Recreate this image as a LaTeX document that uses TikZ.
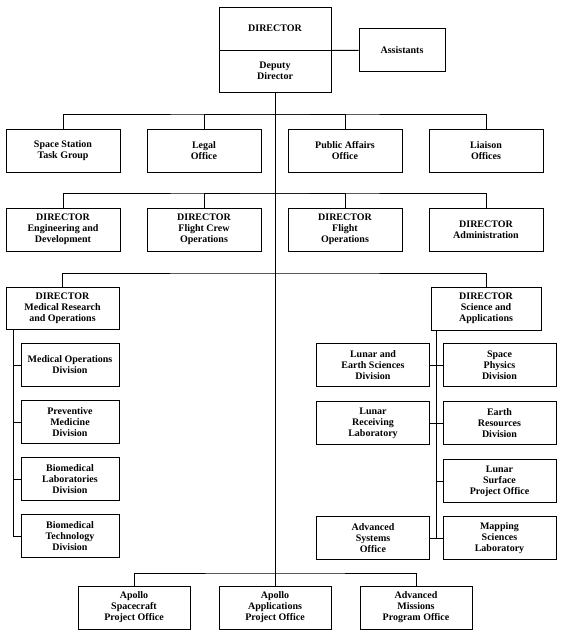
\documentclass[tikz,border=0pt]{standalone}
\usepackage{fontspec}
\setmainfont{Liberation Serif}
\usetikzlibrary{positioning}

\begin{document}
\begin{tikzpicture}[x=1pt,y=-1pt,on grid,node distance=141pt,line width=1pt,
   unit/.style={draw,line width=1pt,align=center,minimum width=114pt,minimum height=43pt,
      inner sep=1pt,font=\fontsize{10}{11}\selectfont\bfseries},
   div/.style={unit,minimum width=98pt}]
   \useasboundingbox (0,0) rectangle (563,637);
   \node[unit,minimum width=112pt] (dir) at (275,28.5) {DIRECTOR};
   \node[unit,minimum width=112pt,minimum height=42pt] (dep) [below=42.5pt of dir] {Deputy\\Director};
   \node[unit,minimum width=86pt] (assist) at (402,50) {Assistants};
   \node[unit] (sst)    at (63,150.5) {Space Station\\Task Group};
   \node[unit] (legal)  [right=of sst] {Legal\\Office};
   \node[unit] (pao)    [right=of legal] {Public Affairs\\Office};
   \node[unit] (liais)  [right=of pao] {Liaison\\Offices};
   \node[unit] (engdev) [below=79pt of sst] {DIRECTOR\\Engineering and\\Development};
   \node[unit] (crew)   [below=79pt of legal] {DIRECTOR\\Flight Crew\\Operations};
   \node[unit] (flops)  [below=79pt of pao] {DIRECTOR\\Flight\\Operations};
   \node[unit] (admin)  [below=79pt of liais] {DIRECTOR\\Administration};
   \node[unit,minimum width=113pt,minimum height=42pt] (medres) at (62.5,308) {DIRECTOR\\Medical Research\\and Operations};
   \node[unit,minimum width=110pt] (sciapp) at (486,308.5) {DIRECTOR\\Science and\\Applications};
   \node[div] (medops) at (70,365) {Medical Operations\\Division};
   \node[div] (prev)   [below=57pt of medops] {Preventive\\Medicine\\Division};
   \node[div] (bmlab)  [below=57pt of prev] {Biomedical\\Laboratories\\Division};
   \node[div] (bmtech) [below=57pt of bmlab] {Biomedical\\Technology\\Division};
   \node[unit,minimum width=113pt] (lunearth)  at (373,365) {Lunar and\\Earth Sciences\\Division};
   \node[unit,minimum width=113pt] (spacephys) [right=126.5pt of lunearth] {Space\\Physics\\Division};
   \node[unit,minimum width=113pt] (lunrec)    [below=58pt of lunearth] {Lunar\\Receiving\\Laboratory};
   \node[unit,minimum width=113pt] (earthres)  [below=58pt of spacephys] {Earth\\Resources\\Division};
   \node[unit,minimum width=113pt] (lunsurf)   [below=58pt of earthres] {Lunar\\Surface\\Project Office};
   \node[unit,minimum width=113pt] (mapping)   [below=57pt of lunsurf] {Mapping\\Sciences\\Laboratory};
   \node[unit,minimum width=113pt] (advsys)    [left=126.5pt of mapping] {Advanced\\Systems\\Office};
   \node[unit,minimum width=112pt] (apap) at (275,607.5) {Apollo\\Applications\\Project Office};
   \node[unit,minimum width=112pt] (apsc) [left=of apap] {Apollo\\Spacecraft\\Project Office};
   \node[unit,minimum width=112pt] (amp)  [right=of apap] {Advanced\\Missions\\Program Office};
   \coordinate (r1) at (275,114);
   \coordinate (r2) at (275,193);
   \coordinate (r3) at (275,273);
   \coordinate (r4) at (275,573);
   \draw (dep) -- (apap);
   \draw (dir.south east) -- (assist);
   \draw (sst) |- (r1) -| (liais);
   \draw (legal) |- (r1) -| (pao);
   \draw (engdev) |- (r2) -| (admin);
   \draw (crew) |- (r2) -| (flops);
   \draw (medres) |- (r3) -| (sciapp);
   \draw (apsc) |- (r4) -| (amp);
   \draw ([xshift=8pt]medres.south west) coordinate (ml) |- (bmtech);
   \foreach \n in {medops,prev,bmlab}
      \draw (\n.west) -- (\n.west -| ml);
   \draw ([xshift=6pt]sciapp.south west) coordinate (mr) |- (mapping);
   \draw (lunearth) -- (spacephys);
   \draw (lunrec) -- (earthres);
   \draw (advsys) -- (mapping);
   \draw (lunsurf.west) -- (lunsurf.west -| mr);
\end{tikzpicture}
\end{document}
